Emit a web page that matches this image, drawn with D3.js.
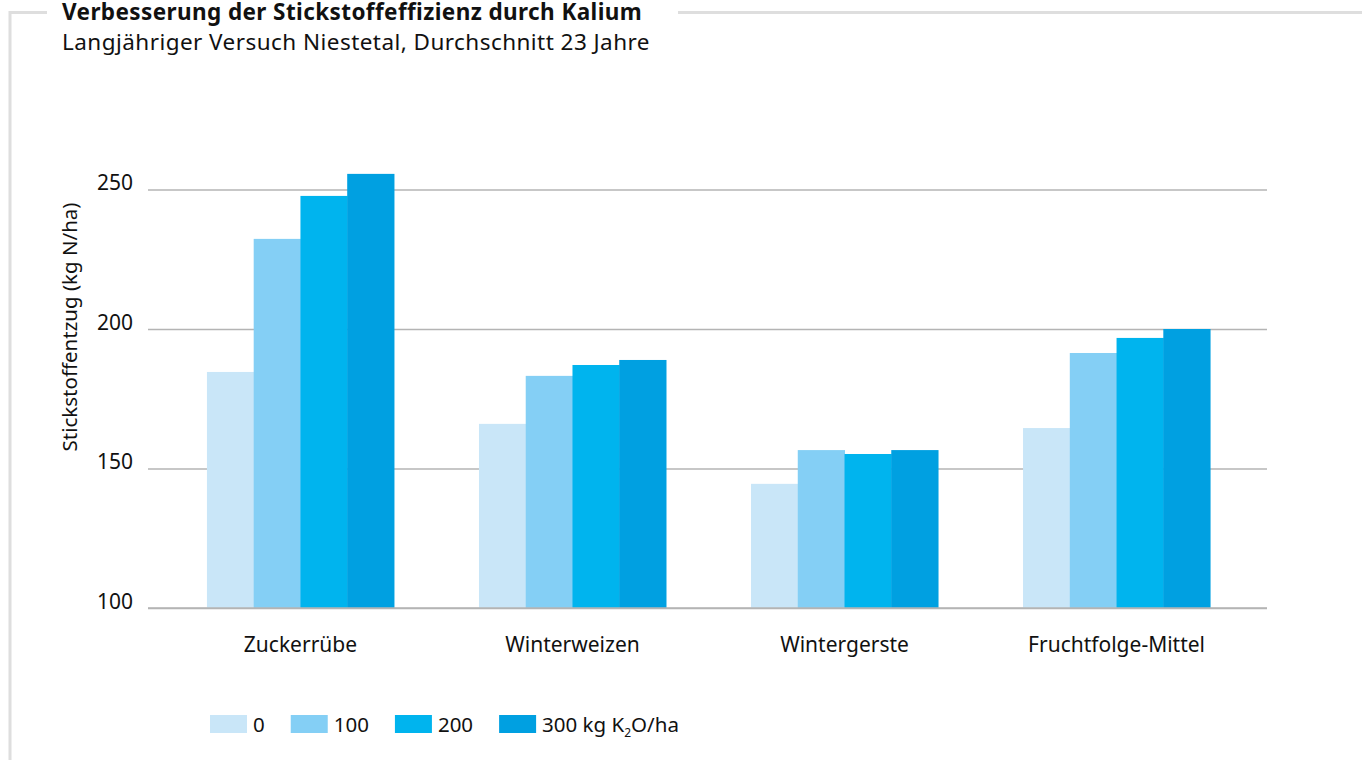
<!DOCTYPE html>
<html>
<head>
<meta charset="utf-8">
<script src="https://cdn.jsdelivr.net/npm/d3@7"></script>
<style>
  html, body { margin: 0; padding: 0; background: #fff; }
  svg { display: block; font-family: "Noto Sans", sans-serif; }
</style>
</head>
<body>
<svg id="chart" width="1362" height="760"></svg>
<script>
// Crops and potassium levels
const categories = ["Zuckerrübe", "Winterweizen", "Wintergerste", "Fruchtfolge-Mittel"];
const seriesNames = ["0", "100", "200", "300"];
// Nitrogen uptake (kg N/ha) per K2O level
const k0   = [184.6, 166, 144.5, 164.5];
const k100 = [232.3, 183.2, 156.6, 191.4];
const k200 = [247.7, 187.1, 155.2, 196.8];
const k300 = [255.6, 188.9, 156.6, 200];
const yTicks = [100, 150, 200, 250];
const seriesColors = ["#c9e6f8", "#84cff5", "#00b4ee", "#00a0e1"];

const series = [k0, k100, k200, k300];

const svg = d3.select("#chart");

// Frame around the title
const frame = svg.append("g").attr("stroke", "#dedede").attr("stroke-width", 3).attr("fill", "none");
frame.append("path").attr("d", "M10,760 V12.5 H47");
frame.append("path").attr("d", "M678,12.5 H1362");

svg.append("text").attr("x", 62).attr("y", 19.5)
  .attr("font-size", 22.5).attr("font-weight", 700).attr("fill", "#111")
  .attr("letter-spacing", 0.4)
  .text("Verbesserung der Stickstoffeffizienz durch Kalium");
svg.append("text").attr("x", 62).attr("y", 50)
  .attr("font-size", 22.5).attr("fill", "#111")
  .attr("letter-spacing", 0.45)
  .text("Langjähriger Versuch Niestetal, Durchschnitt 23 Jahre");

const gridLeft = 148, gridRight = 1267;
const y = d3.scaleLinear().domain([100, 250]).range([608, 189.5]);
const x0 = d3.scaleBand().domain(categories).range([164.5, 1252.5]).paddingInner(0.3125).paddingOuter(0.156);
const x1 = d3.scaleBand().domain(seriesNames).range([0, x0.bandwidth()]);

// Gridlines and tick labels
const yAxis = d3.axisLeft(y).tickValues(yTicks).tickSize(-(gridRight - gridLeft)).tickPadding(15);
const ga = svg.append("g").attr("transform", `translate(${gridLeft},0)`).call(yAxis);
ga.select(".domain").remove();
ga.selectAll(".tick line").attr("stroke", "#b4b4b4").attr("stroke-width", 1.5);
ga.selectAll(".tick text").attr("font-size", 21).attr("fill", "#111")
  .attr("font-family", "'Noto Sans', sans-serif").attr("dy", "0");

// Bars
const groups = svg.append("g").selectAll("g").data(categories).join("g")
  .attr("transform", d => `translate(${x0(d)},0)`);
groups.selectAll("rect")
  .data((c, i) => series.map((s, j) => ({ key: seriesNames[j], value: s[i], color: seriesColors[j] })))
  .join("rect")
  .attr("x", d => x1(d.key))
  .attr("width", x1.bandwidth() + 0.5)
  .attr("y", d => y(d.value))
  .attr("height", d => y(100) - y(d.value))
  .attr("fill", d => d.color);

// Baseline redraw on top of bars
svg.append("line").attr("x1", gridLeft).attr("x2", gridRight).attr("y1", y(100)).attr("y2", y(100))
  .attr("stroke", "#b4b4b4").attr("stroke-width", 1.5);

// Category labels
const xAxis = d3.axisBottom(x0).tickSize(0).tickPadding(0);
const gx = svg.append("g").attr("transform", `translate(0,${y(100)})`).call(xAxis);
gx.select(".domain").remove();
gx.selectAll(".tick text").attr("font-size", 21).attr("fill", "#111")
  .attr("font-family", "'Noto Sans', sans-serif").attr("dy", "0").attr("y", 44);

// Y axis title
svg.append("text")
  .attr("transform", "translate(77,327) rotate(-90)")
  .attr("text-anchor", "middle").attr("font-size", 20.5).attr("fill", "#111")
  .text("Stickstoffentzug (kg N/ha)");

// Legend
const legend = svg.append("g").attr("transform", "translate(210,715)");
let lx = 0;
seriesNames.forEach((name, i) => {
  const g = legend.append("g").attr("transform", `translate(${lx},0)`);
  g.append("rect").attr("width", 37).attr("height", 18).attr("fill", seriesColors[i]);
  const t = g.append("text").attr("x", 43).attr("y", 17).attr("font-size", 20.5).attr("fill", "#111");
  if (i === seriesNames.length - 1) {
    t.append("tspan").text(name + " kg K");
    t.append("tspan").attr("font-size", 12).attr("dy", 5).text("2");
    t.append("tspan").attr("dy", -5).text("O/ha");
  } else {
    t.text(name);
  }
  lx += 43 + t.node().getComputedTextLength() + 26;
});
</script>
</body>
</html>
